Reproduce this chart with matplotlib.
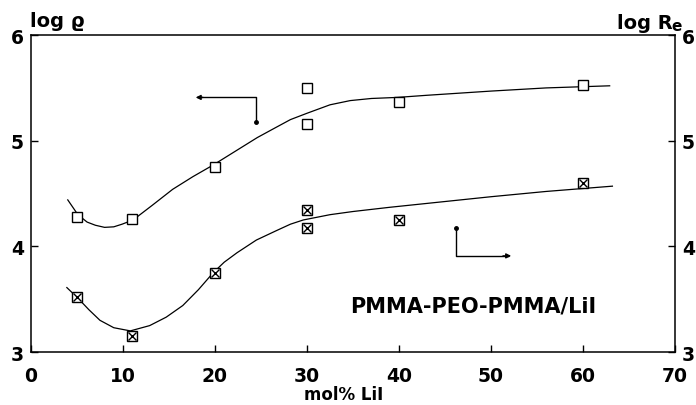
import matplotlib.pyplot as plt

# measured points (x = mol% LiI)
x_rho = [5, 11, 20, 30, 30, 40, 60]
log_rho = [4.28, 4.26, 4.75, 5.50, 5.16, 5.37, 5.53]

x_re = [5, 11, 20, 30, 30, 40, 60]
log_re = [3.52, 3.15, 3.75, 4.34, 4.17, 4.25, 4.60]

# hand-drawn fit curves
curve_rho_x = [4.0, 5.1, 6.1, 7.0, 8.0, 9.0, 9.9, 11.1, 13.2, 15.4, 17.6, 19.8,
               22.2, 24.6, 26.5, 28.2, 30.0, 32.5, 34.7, 37.0, 39.8, 43.0, 50.0, 56.0, 62.9]
curve_rho_y = [4.44, 4.30, 4.23, 4.20, 4.18, 4.185, 4.21, 4.25, 4.39, 4.54, 4.66, 4.77,
               4.90, 5.03, 5.12, 5.20, 5.26, 5.34, 5.38, 5.40, 5.41, 5.43, 5.47, 5.50, 5.52]

curve_re_x = [3.9, 5.1, 6.3, 7.5, 9.0, 10.8, 12.9, 14.7, 16.5, 18.2, 19.8, 21.0,
              22.4, 24.5, 26.7, 28.2, 29.6, 32.5, 35.0, 39.0, 43.4, 50.0, 56.0, 63.2]
curve_re_y = [3.61, 3.51, 3.40, 3.30, 3.23, 3.20, 3.25, 3.33, 3.44, 3.59, 3.75, 3.85,
              3.94, 4.06, 4.15, 4.21, 4.25, 4.30, 4.33, 4.37, 4.41, 4.47, 4.52, 4.57]

x_ticks = [0, 10, 20, 30, 40, 50, 60, 70]
y_ticks = [3, 4, 5, 6]

plt.rcParams['font.family'] = 'DejaVu Sans'
plt.rcParams['font.weight'] = 'bold'

fig = plt.figure(figsize=(6.96, 4.06), dpi=100)
ax = fig.add_axes([0.0445, 0.1305, 0.9253, 0.7806])

ax.plot(curve_rho_x, curve_rho_y, color='black', lw=0.9)
ax.plot(curve_re_x, curve_re_y, color='black', lw=0.9)

ax.plot(x_rho, log_rho, ls='none', marker='s', ms=7.5, mfc='white', mec='black', mew=1.0)
ax.plot(x_re, log_re, ls='none', marker='s', ms=7.5, mfc='white', mec='black', mew=1.0)
ax.plot(x_re, log_re, ls='none', marker='x', ms=5.5, mec='black', mew=1.0)

# little direction arrows
ax.plot([24.5, 24.5, 18.5], [5.18, 5.41, 5.41], color='black', lw=1.0)
ax.annotate('', xy=(17.6, 5.41), xytext=(19.0, 5.41),
            arrowprops=dict(arrowstyle='-|>', color='black', lw=1.0, mutation_scale=7))
ax.plot([24.5], [5.18], marker='o', ms=2.5, color='black')

ax.plot([46.2, 46.2, 51.8], [4.17, 3.91, 3.91], color='black', lw=1.0)
ax.annotate('', xy=(52.5, 3.91), xytext=(51.0, 3.91),
            arrowprops=dict(arrowstyle='-|>', color='black', lw=1.0, mutation_scale=7))
ax.plot([46.2], [4.17], marker='o', ms=2.5, color='black')

ax.text(34.7, 3.44, 'PMMA-PEO-PMMA/LiI', fontsize=15, fontweight='bold',
        ha='left', va='center')

ax.set_xlim(0, 70)
ax.set_ylim(3, 6)
ax.set_xticks(x_ticks)
ax.set_yticks(y_ticks)
ax.tick_params(direction='in', length=5, width=1, labelsize=13.5, pad=5)
ax.tick_params(axis='x', pad=10)
ax.tick_params(left=True, right=True, labelleft=True, labelright=True)
for lab in ax.get_xticklabels() + ax.get_yticklabels():
    lab.set_fontweight('bold')
for s in ax.spines.values():
    s.set_linewidth(1.1)

ax.set_xlabel('mol% LiI', fontsize=12, fontweight='bold')
ax.xaxis.set_label_coords(0.486, -0.105)

fig.text(0.043, 0.933, 'log ϱ', fontsize=14, fontweight='bold', va='baseline')
fig.text(0.886, 0.928, 'log R', fontsize=14, fontweight='bold', va='baseline')
fig.text(0.964, 0.923, 'e', fontsize=11, fontweight='bold', va='baseline')

fig.savefig('out.png', dpi=100)
